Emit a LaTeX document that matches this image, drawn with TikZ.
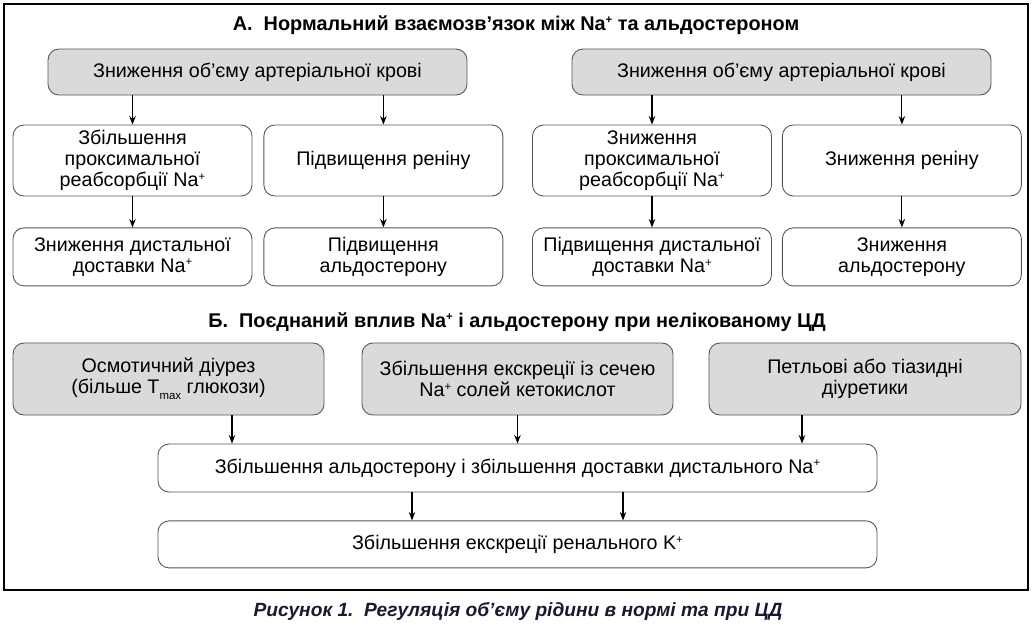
\documentclass[tikz,border=0pt]{standalone}
\usepackage{fontspec}
\setmainfont{Liberation Sans}
\usepackage{xcolor}
\usetikzlibrary{arrows.meta, positioning}
\definecolor{boxgrey}{HTML}{DADADA}
\definecolor{framegrey}{HTML}{555555}
\definecolor{capnavy}{rgb}{0.1,0.1,0.2}
\newcommand{\ionplus}{\raisebox{0.62ex}{\fontsize{6.5}{6.5}\selectfont +}}
\newcommand{\tmaxsub}{\raisebox{-0.55ex}{\fontsize{6.5}{6.5}\selectfont max}}

\begin{document}
\begin{tikzpicture}[
  node distance=0.6cm,
  stage/.style={rectangle, rounded corners=0.22cm, draw=framegrey, line width=0.5pt, minimum width=4.78cm, minimum height=1.42cm, align=center, inner sep=1pt, font=\fontsize{11.2}{11.9}\selectfont},
  cause/.style={stage, fill=boxgrey},
  heading/.style={font=\fontsize{11.3}{13}\selectfont\bfseries},
  arrow/.style={line width=0.6pt,-{Stealth[length=1.7mm,width=1.3mm]}}
]
\useasboundingbox (0,0) rectangle (20.7,-12.46);
\draw[line width=0.6pt] (0.08,-0.08) rectangle (20.56,-11.8);

% A: normal relation
\node[heading] (titleA) at (10.32,-0.5) {А.\ \ Нормальний взаємозв’язок між Na\ionplus{} та альдостероном};
\node[cause, minimum width=8.38cm, minimum height=0.92cm] (volA) at (5.15,-1.44) {Зниження об’єму артеріальної крові};
\node[cause, minimum width=8.38cm, minimum height=0.92cm] (volB) at (15.63,-1.44) {Зниження об’єму артеріальної крові};

\node[stage] (proxA) at (2.65,-3.21) {Збільшення\\проксимальної\\реабсорбції Na\ionplus};
\node[stage, right=0.22cm of proxA] (reninA) {Підвищення реніну};
\node[stage] (proxB) at (13.04,-3.21) {Зниження\\проксимальної\\реабсорбції Na\ionplus};
\node[stage, right=0.2cm of proxB] (reninB) {Зниження реніну};

\node[stage, minimum height=1.16cm, below=0.62cm of proxA] (distA) {Зниження дистальної\\доставки Na\ionplus};
\node[stage, minimum height=1.16cm, below=0.62cm of reninA] (aldoA) {Підвищення\\альдостерону};
\node[stage, minimum height=1.16cm, below=0.62cm of proxB] (distB) {Підвищення дистальної\\доставки Na\ionplus};
\node[stage, minimum height=1.16cm, below=0.62cm of reninB] (aldoB) {Зниження\\альдостерону};

\draw[arrow] (proxA.north |- volA.south) -- (proxA);
\draw[arrow] (reninA.north |- volA.south) -- (reninA);
\draw[arrow] (proxB.north |- volB.south) -- (proxB);
\draw[arrow] (reninB.north |- volB.south) -- (reninB);
\draw[arrow] (proxA) -- (distA);
\draw[arrow] (reninA) -- (aldoA);
\draw[arrow] (proxB) -- (distB);
\draw[arrow] (reninB) -- (aldoB);

% B: uncontrolled diabetes
\node[heading] (titleB) at (10.34,-6.44) {Б.\ \ Поєднаний вплив Na\ionplus{} і альдостерону при нелікованому ЦД};
\node[cause, minimum width=6.22cm, minimum height=1.44cm] (osmo) at (3.37,-7.58) {Осмотичний діурез\\(більше T\tmaxsub{} глюкози)};
\node[cause, minimum width=6.22cm, minimum height=1.44cm] (keto) at (10.35,-7.58) {Збільшення екскреції із сечею\\Na\ionplus{} солей кетокислот};
\node[cause, minimum width=6.24cm, minimum height=1.44cm] (diur) at (17.3,-7.58) {Петльові або тіазидні\\діуретики};

\node[stage, minimum width=14.38cm, minimum height=0.96cm] (aldoDist) at (10.35,-9.36) {Збільшення альдостерону і збільшення доставки дистального Na\ionplus};
\node[stage, minimum width=14.38cm, minimum height=0.94cm, below=0.56cm of aldoDist] (kexcr) {Збільшення екскреції ренального K\ionplus};

\coordinate (osmoEnd) at (4.64,-9.36);
\coordinate (diurEnd) at (16.04,-9.36);
\draw[arrow] (osmo.south -| osmoEnd) -- (osmoEnd |- aldoDist.north);
\draw[arrow] (keto) -- (aldoDist);
\draw[arrow] (diur.south -| diurEnd) -- (diurEnd |- aldoDist.north);
\draw[arrow] ([xshift=-2.11cm]aldoDist.south) -- ([xshift=-2.11cm]kexcr.north);
\draw[arrow] ([xshift=2.11cm]aldoDist.south) -- ([xshift=2.11cm]kexcr.north);

\node[font=\fontsize{10.9}{12}\selectfont\bfseries\itshape, text=capnavy] (caption) at (10.36,-12.22) {Рисунок 1.\ \ Регуляція об’єму рідини в нормі та при ЦД};
\end{tikzpicture}
\end{document}
